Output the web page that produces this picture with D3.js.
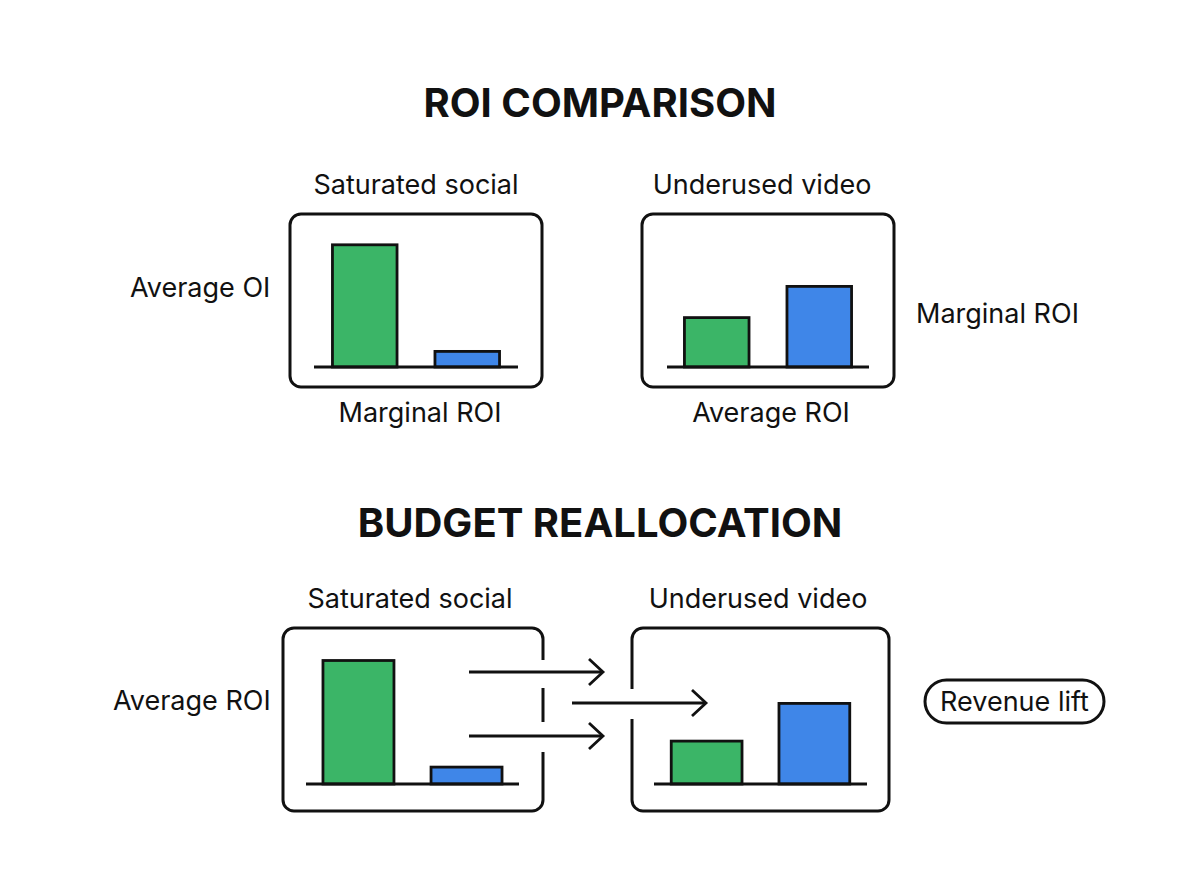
<!DOCTYPE html>
<html>
<head>
<meta charset="utf-8">
<script src="https://cdn.jsdelivr.net/npm/d3@7"></script>
<style>
  html, body { margin: 0; padding: 0; background: #ffffff; }
  svg { display: block; font-family: Inter, "Noto Sans", sans-serif; }
</style>
</head>
<body>
<svg id="chart" width="1200" height="896"></svg>
<script>
// ---------- data ----------
const sectionTitles = ["ROI COMPARISON", "BUDGET REALLOCATION"];
const channels = ["Saturated social", "Underused video"];
const metrics = ["Average ROI", "Marginal ROI"];
// bar values (relative ROI index, 0-100)
const roiSocial = [94, 12];          // top row: average, marginal
const roiVideo = [38, 62];
const reallocSocial = [95, 13];      // bottom row: average, marginal
const reallocVideo = [33, 62];
const sideLabelsTop = ["Average OI", "Marginal ROI"];
const bottomLabelsTop = ["Marginal ROI", "Average ROI"];
const sideLabelBottom = "Average ROI";
const outcomeLabel = "Revenue lift";

// ---------- setup ----------
const svg = d3.select("#chart");
const GREEN = "#3bb567", BLUE = "#3f86e8", INK = "#111111";
const color = d3.scaleOrdinal().domain(metrics).range([GREEN, BLUE]);
const y = d3.scaleLinear().domain([0, 100]).range([0, 130]);

svg.append("rect").attr("width", 1200).attr("height", 896).attr("fill", "#fff");

// titles
svg.append("text").attr("x", 600).attr("y", 117).attr("text-anchor", "middle")
  .attr("font-size", 40).attr("font-weight", 700).attr("fill", INK).text(sectionTitles[0]);
svg.append("text").attr("x", 600).attr("y", 537).attr("text-anchor", "middle")
  .attr("font-size", 40).attr("font-weight", 700).attr("fill", INK).text(sectionTitles[1]);

function label(x, yy, t, anchor) {
  svg.append("text").attr("x", x).attr("y", yy).attr("text-anchor", anchor || "middle")
    .attr("font-size", 27).attr("fill", INK).text(t);
}

// rounded box path with optional gaps on left or right edge
function boxPath(x, yTop, w, h, r, side, gaps) {
  const x1 = x + w, y1 = yTop + h;
  const p = d3.path();
  if (!gaps || gaps.length === 0) {
    p.moveTo(x + r, yTop);
    p.lineTo(x1 - r, yTop); p.arcTo(x1, yTop, x1, yTop + r, r);
    p.lineTo(x1, y1 - r); p.arcTo(x1, y1, x1 - r, y1, r);
    p.lineTo(x + r, y1); p.arcTo(x, y1, x, y1 - r, r);
    p.lineTo(x, yTop + r); p.arcTo(x, yTop, x + r, yTop, r);
    p.closePath();
    return p.toString();
  }
  const last = gaps[gaps.length - 1];
  if (side === "right") {
    p.moveTo(x1, last[1]);
    p.lineTo(x1, y1 - r); p.arcTo(x1, y1, x1 - r, y1, r);
    p.lineTo(x + r, y1); p.arcTo(x, y1, x, y1 - r, r);
    p.lineTo(x, yTop + r); p.arcTo(x, yTop, x + r, yTop, r);
    p.lineTo(x1 - r, yTop); p.arcTo(x1, yTop, x1, yTop + r, r);
    p.lineTo(x1, gaps[0][0]);
    for (let i = 0; i < gaps.length - 1; i++) {
      p.moveTo(x1, gaps[i][1]); p.lineTo(x1, gaps[i + 1][0]);
    }
  } else {
    p.moveTo(x, last[1]);
    p.lineTo(x, y1 - r); p.arcTo(x, y1, x + r, y1, r);
    p.lineTo(x1 - r, y1); p.arcTo(x1, y1, x1, y1 - r, r);
    p.lineTo(x1, yTop + r); p.arcTo(x1, yTop, x1 - r, yTop, r);
    p.lineTo(x + r, yTop); p.arcTo(x, yTop, x, yTop + r, r);
    p.lineTo(x, gaps[0][0]);
    for (let i = 0; i < gaps.length - 1; i++) {
      p.moveTo(x, gaps[i][1]); p.lineTo(x, gaps[i + 1][0]);
    }
  }
  return p.toString();
}

function panel(cfg, values) {
  const g = svg.append("g");
  g.append("path").attr("d", boxPath(cfg.x, cfg.y, cfg.w, cfg.h, 11, cfg.side, cfg.gaps))
    .attr("fill", "none").attr("stroke", INK).attr("stroke-width", 3)
    .attr("stroke-linecap", "butt");
  const base = cfg.base;
  const xb = d3.scaleBand().domain(metrics).range([cfg.x + cfg.bx0, cfg.x + cfg.bx1])
    .paddingInner(cfg.pin).paddingOuter(cfg.pout);
  g.selectAll("rect.bar").data(metrics.map((m, i) => ({ m, v: values[i] })))
    .join("rect").attr("class", "bar")
    .attr("x", d => xb(d.m)).attr("width", xb.bandwidth())
    .attr("y", d => base - y(d.v)).attr("height", d => y(d.v))
    .attr("fill", d => color(d.m)).attr("stroke", INK).attr("stroke-width", 2.8);
  g.append("line").attr("x1", cfg.x + cfg.bx0).attr("x2", cfg.x + cfg.bx1)
    .attr("y1", base).attr("y2", base).attr("stroke", INK).attr("stroke-width", 2.8);
}

// ---------- top row ----------
panel({ x: 290, y: 214, w: 252, h: 173, base: 367, bx0: 24, bx1: 228, pin: 0.37, pout: 0.18 }, roiSocial);
panel({ x: 642, y: 214, w: 252, h: 173, base: 367, bx0: 25, bx1: 227, pin: 0.37, pout: 0.17 }, roiVideo);
label(416, 194, channels[0]);
label(762, 194, channels[1]);
label(130, 297, sideLabelsTop[0], "start");
label(916, 323, sideLabelsTop[1], "start");
label(420, 422, bottomLabelsTop[0]);
label(771, 422, bottomLabelsTop[1]);

// ---------- bottom row ----------
panel({ x: 283, y: 628, w: 260, h: 183, base: 784, bx0: 23, bx1: 236, pin: 0.343, pout: 0.157,
        side: "right", gaps: [[660, 688], [722, 752]] }, reallocSocial);
panel({ x: 632, y: 628, w: 257, h: 183, base: 784, bx0: 22, bx1: 235, pin: 0.343, pout: 0.16,
        side: "left", gaps: [[689, 719]] }, reallocVideo);
label(410, 608, channels[0]);
label(758, 608, channels[1]);
label(113, 710, sideLabelBottom, "start");

// arrows
function arrow(x0, x1, yy) {
  svg.append("line").attr("x1", x0).attr("x2", x1).attr("y1", yy).attr("y2", yy)
    .attr("stroke", INK).attr("stroke-width", 2.8);
  svg.append("path").attr("d", `M${x1 - 14},${yy - 13}L${x1},${yy}L${x1 - 14},${yy + 13}`)
    .attr("fill", "none").attr("stroke", INK).attr("stroke-width", 2.8)
    .attr("stroke-linejoin", "miter").attr("stroke-linecap", "butt");
}
arrow(469, 603, 672);
arrow(469, 603, 736);
arrow(572, 706, 703);

// outcome pill
svg.append("rect").attr("x", 925).attr("y", 680).attr("width", 179).attr("height", 43)
  .attr("rx", 21.5).attr("fill", "#fff").attr("stroke", INK).attr("stroke-width", 3);
label(1014.5, 711, outcomeLabel);
</script>
</body>
</html>
